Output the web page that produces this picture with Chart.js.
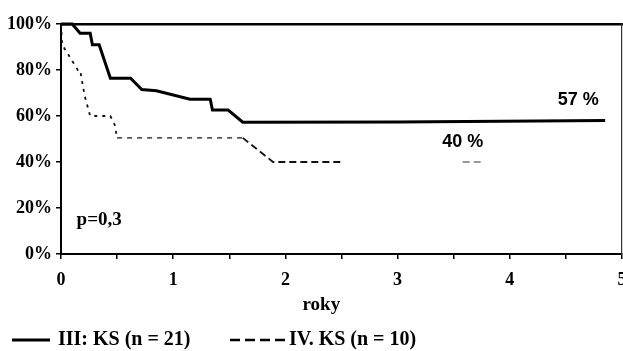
<!DOCTYPE html>
<html>
<head>
<meta charset="utf-8">
<script src="https://cdn.jsdelivr.net/npm/chart.js@4.4.1/dist/chart.umd.min.js"></script>
<style>
html, body { margin: 0; padding: 0; background: #fff; }
#chart { display: block; }
</style>
</head>
<body>
<canvas id="chart" width="623" height="351"></canvas>
<script>
// survival curves: years -> % surviving
var yearsIII = [0, 0.1, 0.17, 0.26, 0.28, 0.34, 0.44, 0.62, 0.72, 0.85, 1.15, 1.33, 1.35, 1.49, 1.62, 3.0, 4.85];
var survivalIII = [100, 100, 96, 96, 91, 91, 76.4, 76.4, 71.5, 71, 67.3, 67.3, 62.6, 62.6, 57.3, 57.4, 58];

var yearsIV = [0, 0.01, 0.15, 0.17, 0.21, 0.26, 0.44, 0.48, 0.5, 1.62, 1.89, 2.52, 3.58, 3.75];
var survivalIV = [100, 91, 80, 80, 69, 60, 60, 56, 50.5, 50.5, 40, 40, 40, 40];

var seriesLabels = ['III: KS (n = 21)', 'IV. KS (n = 10)'];
var yTickValues = [0, 20, 40, 60, 80, 100];
var xTickLabels = ['0', '1', '2', '3', '4', '5'];
var axisTitle = 'roky';
var pValue = 'p=0,3';
var endLabels = ['57 %', '40 %'];

var serif = '"Liberation Serif", "Times New Roman", serif';
var sans = '"Liberation Sans", Arial, sans-serif';

// where the loose texts sit, in chart units (years, %)
var notes = [
    {text: endLabels[0], x: 4.61, y: 67, font: 'bold 18px ' + sans},
    {text: endLabels[1], x: 3.58, y: 48.8, font: 'bold 18px ' + sans},
    {text: pValue, x: 0.34, y: 14.6, font: 'bold 19px ' + serif},
    {text: axisTitle, x: 2.32, y: -22.3, font: 'bold 19px ' + serif}
];

var legendSpots = [
    {x: 12, w: 38, gap: 8, dash: []},
    {x: 230, w: 55, gap: 4, dash: [10, 5]}
];

function toPoints(xs, ys) {
    return xs.map(function(x, i) {
        return {x: x, y: ys[i]};
    });
}

var paperText = {
    id: 'paperText',
    afterDraw: function(chart) {
        var ctx = chart.ctx;
        var xs = chart.scales.x;
        var ys = chart.scales.y;
        ctx.save();
        ctx.fillStyle = '#000';
        ctx.textBaseline = 'middle';
        ctx.textAlign = 'center';
        notes.forEach(function(n) {
            ctx.font = n.font;
            ctx.fillText(n.text, xs.getPixelForValue(n.x), ys.getPixelForValue(n.y));
        });

        // legend row under the axis
        var ly = 340;
        ctx.textAlign = 'left';
        ctx.font = 'bold 20px ' + serif;
        chart.data.datasets.forEach(function(ds, i) {
            var s = legendSpots[i];
            ctx.strokeStyle = '#000';
            ctx.lineWidth = i === 0 ? 3 : 2.5;
            ctx.setLineDash(s.dash);
            ctx.beginPath();
            ctx.moveTo(s.x, ly);
            ctx.lineTo(s.x + s.w, ly);
            ctx.stroke();
            ctx.setLineDash([]);
            ctx.fillText(ds.label, s.x + s.w + s.gap, ly);
        });
        ctx.restore();
    }
};

function segColor(c) {
    var a = c.p0.parsed.x;
    if (a >= 2.5 && a < 3.5) return 'rgba(0,0,0,0)';
    if (a >= 3.5) return '#999';
    if (a >= 0.5 && a < 1.6) return '#555';
    return '#111';
}

function segDash(c) {
    var a = c.p0.parsed.x;
    if (a < 0.5) return [3, 5];
    if (a < 1.6) return [5, 5];
    return [7, 4];
}

var tickFont = {family: serif, size: 18, weight: 'bold'};

new Chart(document.getElementById('chart'), {
    type: 'line',
    data: {
        datasets: [{
            label: seriesLabels[0],
            data: toPoints(yearsIII, survivalIII),
            borderColor: '#000',
            borderWidth: 3,
            pointRadius: 0,
            tension: 0,
            fill: false,
            clip: false
        }, {
            label: seriesLabels[1],
            data: toPoints(yearsIV, survivalIV),
            borderColor: '#111',
            borderWidth: 1.8,
            borderDash: [6, 4],
            pointRadius: 0,
            tension: 0,
            fill: false,
            segment: {
                borderColor: segColor,
                borderDash: segDash
            }
        }]
    },
    options: {
        responsive: false,
        animation: false,
        events: [],
        layout: {
            padding: {top: 24, right: 1, bottom: 57, left: 0}
        },
        plugins: {
            legend: {display: false},
            tooltip: {enabled: false}
        },
        scales: {
            x: {
                type: 'linear',
                min: 0,
                max: 5,
                ticks: {
                    stepSize: 0.5,
                    autoSkip: false,
                    maxRotation: 0,
                    padding: 11,
                    color: '#000',
                    font: tickFont,
                    callback: function(v) {
                        return Number.isInteger(v) ? xTickLabels[v] : '';
                    }
                },
                grid: {drawOnChartArea: false, tickLength: 5, color: '#000', lineWidth: 1.5},
                border: {color: '#000', width: 2},
                afterFit: function(s) {
                    s.height = 40;
                    s.paddingRight = 0;
                    s.paddingLeft = 0;
                }
            },
            y: {
                min: 0,
                max: 100,
                afterBuildTicks: function(s) {
                    s.ticks = yTickValues.map(function(v) { return {value: v}; });
                },
                ticks: {
                    padding: 4,
                    color: '#000',
                    font: tickFont,
                    callback: function(v) { return v + '%'; }
                },
                grid: {drawOnChartArea: false, tickLength: 5, color: '#000', lineWidth: 1.5},
                border: {color: '#000', width: 2},
                afterFit: function(s) {
                    s.width = 61;
                }
            },
            xTop: {
                type: 'linear',
                position: 'top',
                min: 0,
                max: 5,
                ticks: {display: false},
                grid: {display: false},
                border: {color: '#000', width: 2.5},
                afterFit: function(s) { s.height = 0; }
            },
            yRight: {
                type: 'linear',
                position: 'right',
                min: 0,
                max: 100,
                ticks: {display: false},
                grid: {display: false},
                border: {color: '#333', width: 1.2},
                afterFit: function(s) { s.width = 0; }
            }
        }
    },
    plugins: [paperText]
});
</script>
</body>
</html>
